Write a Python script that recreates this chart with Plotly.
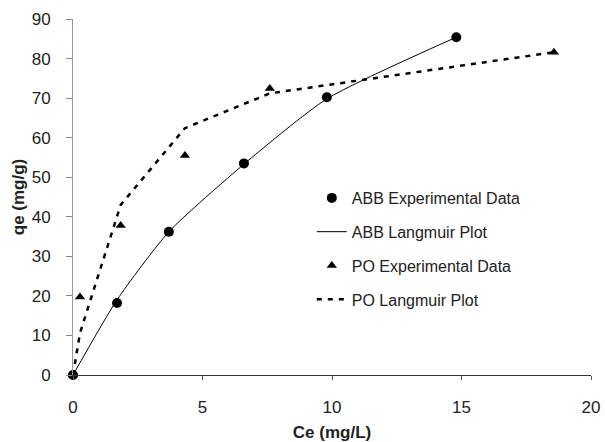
import plotly.graph_objects as go

abb_ce = [0, 1.7, 3.7, 6.6, 9.8, 14.8]
abb_qe = [0, 18.2, 36.2, 53.5, 70.2, 85.4]
abb_fit_ce = [0, 1.7, 3.7, 6.6, 9.8, 14.8]
abb_fit_qe = [0, 19.0, 36.2, 53.3, 69.8, 85.4]

po_ce = [0, 0.27, 1.84, 4.32, 7.6, 18.57]
po_qe = [0, 19.7, 37.8, 55.5, 72.4, 81.6]
po_fit_ce = [0, 0.27, 1.84, 4.32, 7.6, 18.57]
po_fit_qe = [0, 10.6, 43.0, 62.4, 71.2, 81.6]

x_ticks = [0, 5, 10, 15, 20]
y_ticks = [0, 10, 20, 30, 40, 50, 60, 70, 80, 90]

font = "Arial, Liberation Sans, sans-serif"

fig = go.Figure()
fig.add_trace(go.Scatter(x=abb_ce, y=abb_qe, mode="markers", name="ABB Experimental Data",
                         marker=dict(symbol="circle", size=10, color="black"),
                         legendgroup="a", cliponaxis=False))
fig.add_trace(go.Scatter(x=abb_fit_ce, y=abb_fit_qe, mode="lines", name="ABB Langmuir Plot",
                         line=dict(color="black", width=1, shape="spline", smoothing=0.6),
                         legendgroup="b"))
fig.add_trace(go.Scatter(x=po_ce, y=po_qe, mode="markers", name="PO Experimental Data",
                         marker=dict(symbol="triangle-up", size=9, color="black"),
                         legendgroup="c", cliponaxis=False))
fig.add_trace(go.Scatter(x=po_fit_ce, y=po_fit_qe, mode="lines", name="PO Langmuir Plot",
                         line=dict(color="black", width=2.5, dash="5px,6px"),
                         legendgroup="d"))

fig.update_layout(
    width=605, height=442,
    margin=dict(l=73, r=14, t=19, b=67),
    paper_bgcolor="white", plot_bgcolor="white",
    font=dict(family=font, color="#222", size=17),
    legend=dict(x=0.461, y=0.545, xanchor="left", yanchor="top",
                font=dict(size=16, color="#222"), tracegroupgap=10,
                bgcolor="rgba(0,0,0,0)", itemwidth=30),
    xaxis=dict(range=[0, 20], tickvals=x_ticks, ticks="outside", ticklen=4,
               tickcolor="#555", showline=True, linecolor="#333", linewidth=1.2,
               showgrid=False, zeroline=False, ticklabelstandoff=12, automargin=False,
               title=dict(text="<b>Ce (mg/L)</b>", font=dict(size=17), standoff=11),
               tickfont=dict(size=17)),
    yaxis=dict(range=[0, 90], tickvals=y_ticks, ticks="outside", ticklen=6,
               tickcolor="#888", showline=True, linecolor="#999", linewidth=1,
               showgrid=False, zeroline=False, ticklabelstandoff=12, automargin=False,
               title=dict(text="<b>qe (mg/g)</b>", font=dict(size=17), standoff=2),
               tickfont=dict(size=17)),
)

fig.write_html("out.html")
